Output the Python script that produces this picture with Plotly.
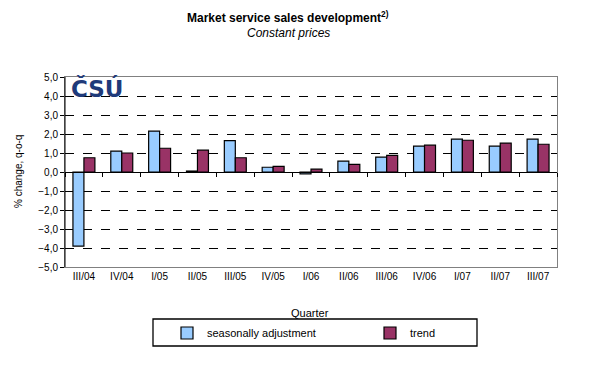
import plotly.graph_objects as go

quarters = ["III/04", "IV/04", "I/05", "II/05", "III/05", "IV/05", "I/06",
            "II/06", "III/06", "IV/06", "I/07", "II/07", "III/07"]
seasonal = [-3.9, 1.1, 2.15, 0.05, 1.65, 0.25, -0.1, 0.57, 0.78, 1.36, 1.73, 1.36, 1.73]
trend = [0.75, 1.0, 1.25, 1.15, 0.75, 0.3, 0.15, 0.4, 0.88, 1.41, 1.67, 1.52, 1.46]
yticks = [-5, -4, -3, -2, -1, 0, 1, 2, 3, 4, 5]

W, H = 589, 385
OFF = 8  # page body margin
# plot area in screen pixels
PX0, PX1, PY0, PY1 = 65, 557, 77, 267
L, T = PX0 - OFF, PY0 - OFF
R = W - (PX1 - OFF)
B = H - (PY1 - OFF)
pw, ph = PX1 - PX0, PY1 - PY0

def px(x):
    return (x - PX0) / pw

def py(y):
    return (PY1 - y) / ph

def cx(x):
    return (x - OFF) / W

def cy(y):
    return 1 - (y - OFF) / H

font = "Liberation Sans, Arial, sans-serif"

fig = go.Figure()
fig.add_trace(go.Bar(x=quarters, y=seasonal, name="seasonally adjustment", legend="legend",
                     marker=dict(color="#99CCFF", line=dict(color="black", width=1.2))))
fig.add_trace(go.Bar(x=quarters, y=trend, name="trend", legend="legend2",
                     marker=dict(color="#993366", line=dict(color="black", width=1.2))))
fig.add_trace(go.Bar(x=quarters, y=[0]*len(quarters), xaxis="x2", showlegend=False,
                     hoverinfo="skip", marker=dict(opacity=0)))

leg = dict(xref="container", yref="container", xanchor="left", yanchor="middle",
           borderwidth=0, font=dict(size=11), bgcolor="rgba(0,0,0,0)",
           itemwidth=30)

fig.update_layout(
    width=W, height=H,
    margin=dict(l=L, r=R, t=T, b=B, autoexpand=False),
    paper_bgcolor="white", plot_bgcolor="white",
    separators=",.",
    barmode="group", bargap=0.42, bargroupgap=0,
    font=dict(family=font, size=10, color="black"),
    showlegend=True,
    legend=dict(leg, x=cx(167), y=cy(333)),
    legend2=dict(leg, x=cx(370), y=cy(333)),
    xaxis=dict(showline=True, linecolor="#808080", linewidth=1, mirror=True,
               ticks="", showgrid=False, tickfont=dict(size=10), automargin=False),
    xaxis2=dict(overlaying="x", anchor="free", position=0.5, matches="x",
                showline=True, linecolor="black", linewidth=1.3,
                ticks="outside", ticklen=4, tickcolor="black", tickson="boundaries",
                showticklabels=False, showgrid=False, automargin=False),
    yaxis=dict(range=[-5, 5], tickvals=yticks, tickformat=".1f",
               showline=True, linecolor="#808080", linewidth=1, mirror=True,
               ticks="outside", ticklen=4, tickcolor="black",
               showgrid=True, gridcolor="black", griddash="dash", gridwidth=1,
               zeroline=False, tickfont=dict(size=10), automargin=False),
    shapes=[
        dict(type="rect", xref="paper", yref="paper", x0=px(153), x1=px(477),
             y0=py(346), y1=py(319), line=dict(color="black", width=1.3)),
        dict(type="line", xref="paper", yref="paper", x0=0, x1=0, y0=0, y1=1,
             line=dict(color="black", width=1)),
    ],
    annotations=[
        dict(text="<b>Market service sales development<sup>2)</sup></b>", xref="paper", yref="paper",
             x=px(288), y=py(17), xanchor="center", yanchor="middle",
             showarrow=False, font=dict(size=12)),
        dict(text="<i>Constant prices</i>", xref="paper", yref="paper",
             x=px(288), y=py(33), xanchor="center", yanchor="middle",
             showarrow=False, font=dict(size=12)),
        dict(text="Quarter", xref="paper", yref="paper",
             x=px(310), y=py(313), xanchor="center", yanchor="middle",
             showarrow=False, font=dict(size=11)),
        dict(text="% change, q-o-q", xref="paper", yref="paper", textangle=-90,
             x=px(18), y=py(172), xanchor="center", yanchor="middle",
             showarrow=False, font=dict(size=10)),
        dict(text="<b>ČSÚ</b>", xref="paper", yref="paper",
             x=px(69), y=py(88), xanchor="left", yanchor="middle", showarrow=False,
             font=dict(size=23, family="DejaVu Sans, Arial Black, sans-serif", color="#1F3A7A")),
    ],
)

fig.write_html("out.html")
